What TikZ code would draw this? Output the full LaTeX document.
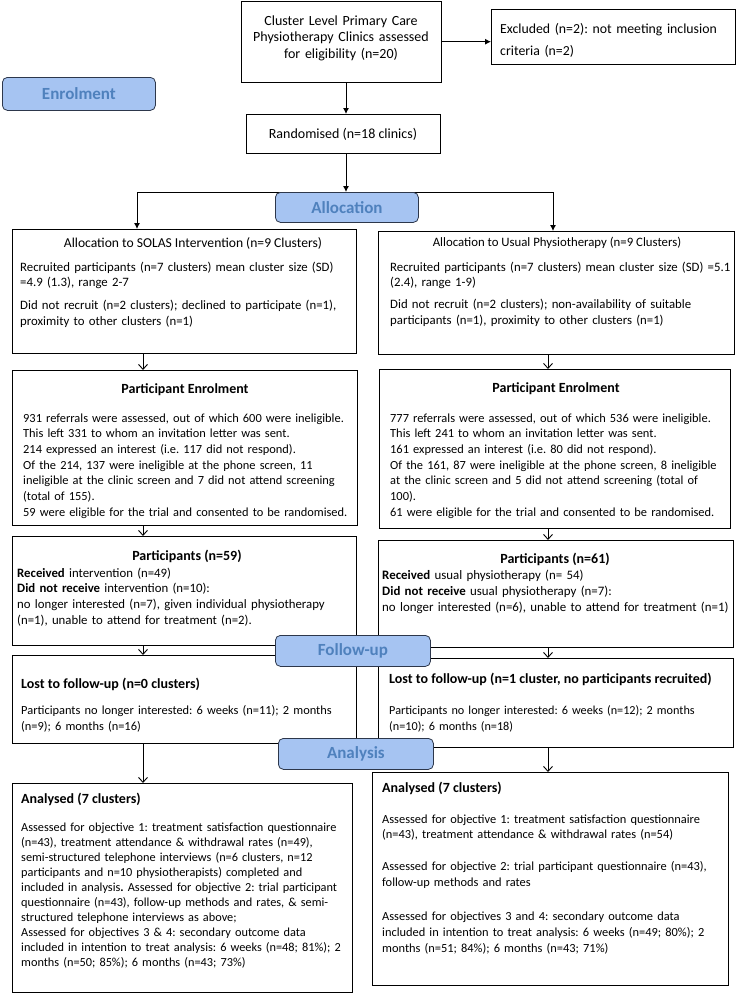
\documentclass[tikz,border=0pt]{standalone}
\usepackage{fontspec}
\setmainfont{Carlito}
\usetikzlibrary{arrows.meta,calc}
\definecolor{lblfill}{RGB}{166,196,242}
\definecolor{lbltext}{RGB}{79,129,189}
\definecolor{lbldraw}{RGB}{45,55,75}
\frenchspacing
\begin{document}
\frenchspacing
\begin{tikzpicture}[x=1pt,y=-1pt,
  box/.style={draw, line width=0.9pt, inner sep=0, anchor=north west},
  txt/.style={inner sep=0, align=left, text width=420pt, anchor=base west, font=\fontsize{12.8pt}{15.7pt}\selectfont},
  ctxt/.style={inner sep=0, anchor=base, font=\fontsize{12.8pt}{15.7pt}\selectfont},
  btitle/.style={inner sep=0, anchor=base, font=\fontsize{14pt}{17pt}\selectfont\bfseries},
  lbtitle/.style={inner sep=0, anchor=base west, font=\fontsize{14pt}{17pt}\selectfont\bfseries},
  stage/.style={draw=lbldraw, fill=lblfill, rounded corners=5pt, line width=0.8pt, text=lbltext,
    font=\fontsize{17pt}{20pt}\selectfont\bfseries, inner sep=0, anchor=north west},
  farrow/.style={line width=0.9pt, -{Latex[length=6pt,width=6pt]}},
  oarrow/.style={line width=0.9pt, -{Straight Barb[length=5pt,width=9pt]}},
  conn/.style={line width=0.9pt}]
\useasboundingbox (0,0) rectangle (737,993);

% boxes
\node[box, minimum width=200pt, minimum height=81.5pt] (top) at (241,0.5) {};
\node[box, minimum width=244pt, minimum height=55pt] (excl) at (491,9) {};
\node[box, minimum width=194pt, minimum height=39pt] (rand) at (246,114) {};
\node[box, minimum width=344pt, minimum height=124pt] (la) at (12,229) {};
\node[box, minimum width=345pt, minimum height=155pt] (lpe) at (12,370) {};
\node[box, minimum width=344pt, minimum height=109pt] (lp) at (12,536) {};
\node[box, minimum width=344pt, minimum height=88pt] (ll) at (12,655) {};
\node[box, minimum width=340pt, minimum height=209pt] (lan) at (12,783) {};
\node[box, minimum width=356pt, minimum height=123pt] (ra) at (378,231) {};
\node[box, minimum width=351pt, minimum height=159pt] (rpe) at (379,369) {};
\node[box, minimum width=355pt, minimum height=107pt] (rp) at (378,540) {};
\node[box, minimum width=355pt, minimum height=89pt] (rl) at (378,658) {};
\node[box, minimum width=356pt, minimum height=213pt] (ran) at (372,772) {};

% texts top
\node[inner sep=0, align=center, text width=200pt, anchor=base, font=\fontsize{14pt}{16.7pt}\selectfont] (toptxt) at (341,25)
  {Cluster Level Primary Care\\Physiotherapy Clinics assessed\\for eligibility (n=20)};
\node[inner sep=0, align=left, text width=240pt, anchor=base west, font=\fontsize{13.8pt}{22pt}\selectfont] (excltxt) at (500,33)
  {Excluded (n=2): not meeting inclusion\\criteria (n=2)};
\node[inner sep=0, anchor=base, font=\fontsize{14pt}{17pt}\selectfont] (randtxt) at (343,138) {Randomised (n=18 clinics)};

% left column texts
\node[ctxt, font=\fontsize{13.6pt}{16pt}\selectfont] (latitle) at (193,247) {Allocation to SOLAS Intervention (n=9 Clusters)};
\node[txt] (latxt) at (20,271) {Recruited participants (n=7 clusters) mean cluster size (SD)\\=4.9 (1.3), range 2-7\\[7.5pt]Did not recruit (n=2 clusters); declined to participate (n=1),\\proximity to other clusters (n=1)};

\node[btitle] (lpetitle) at (185,393) {Participant Enrolment};
\node[txt, font=\fontsize{12.4pt}{15.7pt}\selectfont] (lpetxt) at (23,422) {931 referrals were assessed, out of which 600 were ineligible.\\This left 331 to whom an invitation letter was sent.\\214 expressed an interest (i.e. 117 did not respond).\\Of the 214, 137 were ineligible at the phone screen, 11\\ineligible at the clinic screen and 7 did not attend screening\\(total of 155).\\59 were eligible for the trial and consented to be randomised.};

\node[btitle] (lptitle) at (187,560) {Participants (n=59)};
\node[txt] (lptxt) at (17,577) {\textbf{Received} intervention (n=49)\\\textbf{Did not receive} intervention (n=10):\\no longer interested (n=7), given individual physiotherapy\\(n=1), unable to attend for treatment (n=2).};

\node[lbtitle] (lltitle) at (21,688) {Lost to follow-up (n=0 clusters)};
\node[txt, font=\fontsize{12.4pt}{16.5pt}\selectfont] (lltxt) at (21,714) {Participants no longer interested: 6 weeks (n=11); 2 months\\(n=9); 6 months (n=16)};

\node[lbtitle] (lantitle) at (21,803) {Analysed (7 clusters)};
\node[txt, font=\fontsize{12.3pt}{15.1pt}\selectfont] (lantxt) at (21,831)
  {Assessed for objective 1: treatment satisfaction questionnaire\\(n=43), treatment attendance \& withdrawal rates (n=49),\\semi-structured telephone interviews (n=6 clusters, n=12\\participants and n=10 physiotherapists) completed and\\included in analysis\textbf{.} Assessed for objective 2: trial participant\\questionnaire (n=43), follow-up methods and rates, \& semi-\\structured telephone interviews as above;\\Assessed for objectives 3 \& 4: secondary outcome data\\included in intention to treat analysis: 6 weeks (n=48; 81\%); 2\\months (n=50; 85\%); 6 months (n=43; 73\%)};

% right column texts
\node[ctxt] (ratitle) at (557,246) {Allocation to Usual Physiotherapy (n=9 Clusters)};
\node[txt] (ratxt) at (390,271) {Recruited participants (n=7 clusters) mean cluster size (SD) =5.1\\(2.4), range 1-9)\\[6.5pt]Did not recruit (n=2 clusters); non-availability of suitable\\participants (n=1), proximity to other clusters (n=1)};

\node[btitle] (rpetitle) at (556,392) {Participant Enrolment};
\node[txt, font=\fontsize{12.4pt}{15.7pt}\selectfont] (rpetxt) at (390,422) {777 referrals were assessed, out of which 536 were ineligible.\\This left 241 to whom an invitation letter was sent.\\161 expressed an interest (i.e. 80 did not respond).\\Of the 161, 87 were ineligible at the phone screen, 8 ineligible\\at the clinic screen and 5 did not attend screening (total of\\100).\\61 were eligible for the trial and consented to be randomised.};

\node[btitle] (rptitle) at (555,563) {Participants (n=61)};
\node[txt, font=\fontsize{12.9pt}{16.3pt}\selectfont] (rptxt) at (382,579)
  {\textbf{Received} usual physiotherapy (n= 54)\\\textbf{Did not receive} usual physiotherapy (n=7):\\no longer interested (n=6), unable to attend for treatment (n=1)};

\node[lbtitle] (rltitle) at (389,683) {Lost to follow-up (n=1 cluster, no participants recruited)};
\node[txt, font=\fontsize{12.2pt}{16.5pt}\selectfont] (rltxt) at (389,714) {Participants no longer interested: 6 weeks (n=12); 2 months\\(n=10); 6 months (n=18)};

\node[lbtitle] (rantitle) at (382,792) {Analysed (7 clusters)};
\node[txt, font=\fontsize{12.4pt}{15.7pt}\selectfont] (rantxt) at (382,823) {Assessed for objective 1: treatment satisfaction questionnaire\\(n=43), treatment attendance \& withdrawal rates (n=54)\\[16pt]Assessed for objective 2: trial participant questionnaire (n=43),\\follow-up methods and rates\\[19pt]Assessed for objectives 3 and 4: secondary outcome data\\included in intention to treat analysis: 6 weeks (n=49; 80\%); 2\\months (n=51; 84\%); 6 months (n=43; 71\%)};

% junction coordinates
\coordinate (jl) at (137,192);
\coordinate (jr) at (553,192);
\coordinate (lcol) at (143,0);
\coordinate (rcol) at (548,0);
\coordinate (mcol) at (346,0);

\draw[conn] (jl) -- (jr);

% stage labels
\node[stage, minimum width=153pt, minimum height=33pt] (enrol) at (2,77) {Enrolment};
\node[stage, minimum width=143pt, minimum height=30pt] (alloc) at (275,192) {Allocation};
\node[stage, minimum width=155pt, minimum height=31pt] (follow) at (275,635) {Follow-up};
\node[stage, minimum width=155pt, minimum height=31pt] (anal) at (278,738) {Analysis};

% connectors
\draw[farrow] (top.east) -- (top.east -| excl.west);
\draw[farrow] (top.south -| mcol) -- (rand.north -| mcol);
\draw[farrow] (rand.south -| mcol) -- (alloc.north -| mcol);
\draw[farrow] (jl) -- (jl |- la.north);
\draw[farrow] (jr) -- (jr |- ra.north);

\draw[oarrow] (la.south -| lcol) -- (lpe.north -| lcol);
\draw[oarrow] (lpe.south -| lcol) -- (lp.north -| lcol);
\draw[oarrow] (lp.south -| lcol) -- (ll.north -| lcol);
\draw[oarrow] (ll.south -| lcol) -- (lan.north -| lcol);

\draw[oarrow] (ra.south -| rcol) -- (rpe.north -| rcol);
\draw[oarrow] (rpe.south -| rcol) -- (rp.north -| rcol);
\draw[oarrow] (rp.south -| rcol) -- (rl.north -| rcol);
\draw[oarrow] (rl.south -| rcol) -- (ran.north -| rcol);
\end{tikzpicture}
\end{document}
